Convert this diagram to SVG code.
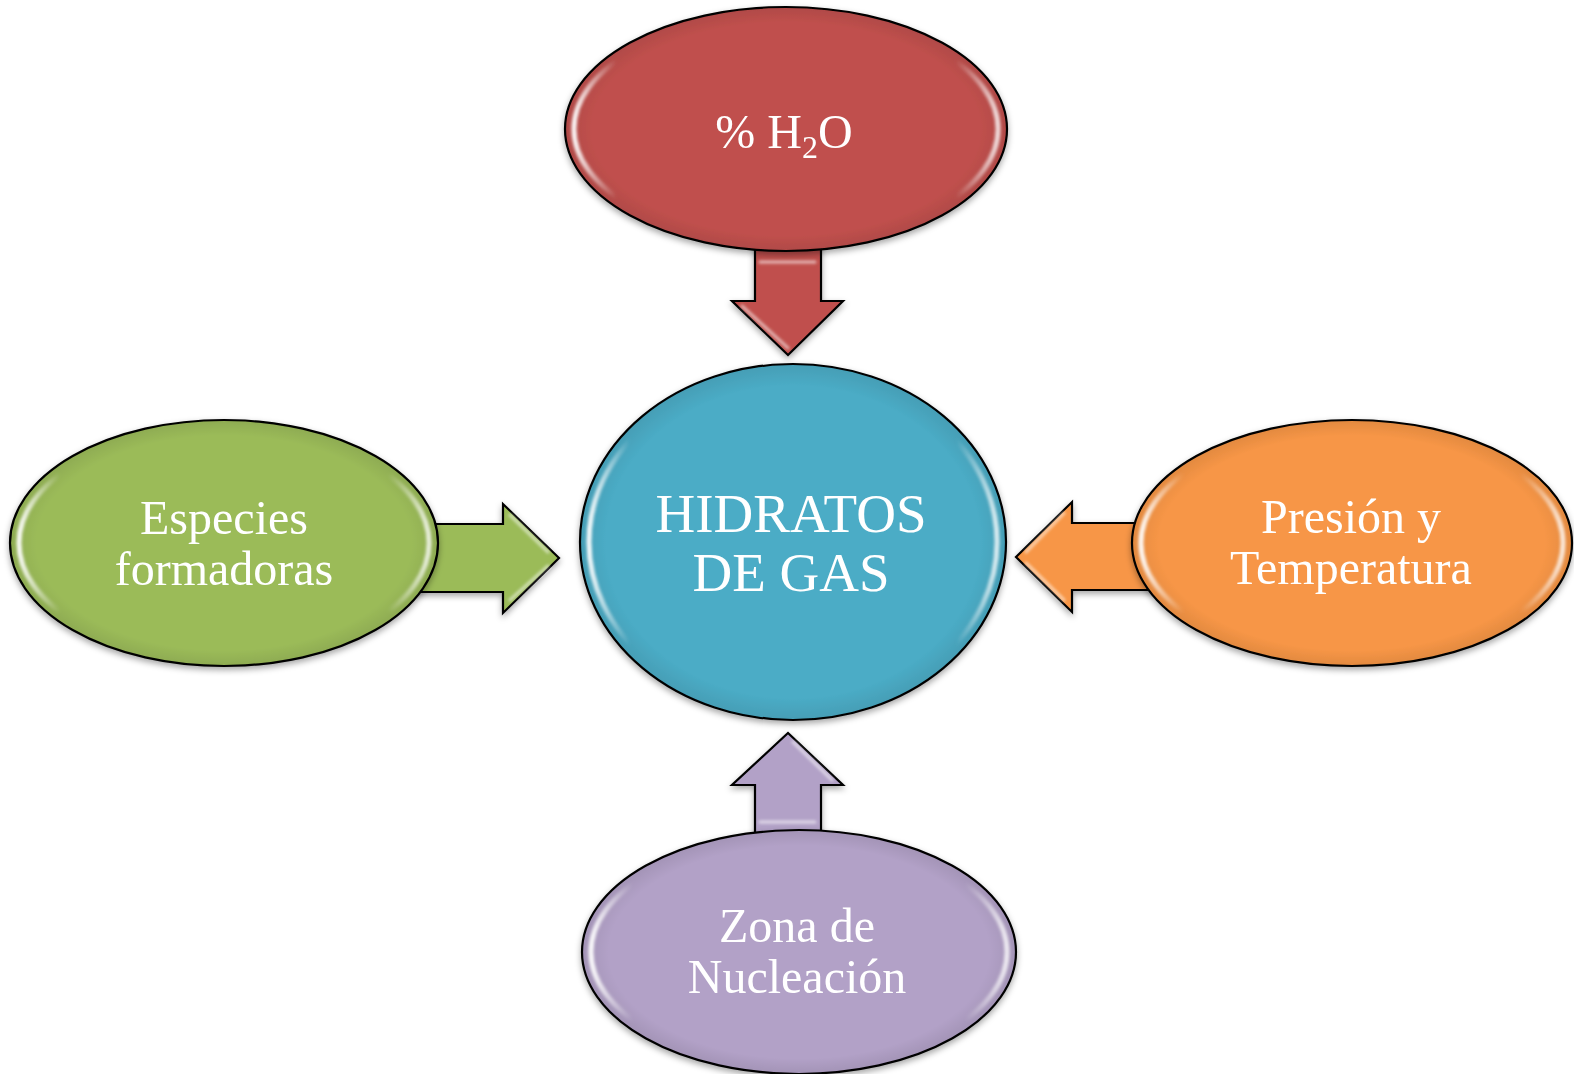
<svg xmlns="http://www.w3.org/2000/svg" width="1574" height="1074" viewBox="0 0 1574 1074">
  <defs>
    <style>
      .shape { stroke: #000; stroke-width: 2.2; stroke-linejoin: miter; }
      .red { fill: #C0504D; }
      .green { fill: #9BBB59; }
      .blue { fill: #4BACC6; }
      .orange { fill: #F79646; }
      .purple { fill: #B2A1C7; }
      .gloss { fill: none; stroke: url(#edgeGloss); stroke-width: 5; filter: url(#soft); }
      .rim { fill: url(#rimShade); stroke: none; }
      .streak { fill: none; stroke: #fff; stroke-width: 3; stroke-linecap: round; opacity: 0.6; filter: url(#soft); }
      .label { font-family: "Liberation Serif", "Times New Roman", serif; font-size: 48px; fill: #fff; text-anchor: middle; }
      .big { font-size: 55px; }
    </style>
    <!-- white crescents on the left and right inner edges -->
    <linearGradient id="edgeGloss" x1="0" y1="0" x2="1" y2="0">
      <stop offset="0" stop-color="#fff" stop-opacity="0.95"/>
      <stop offset="0.1" stop-color="#fff" stop-opacity="0"/>
      <stop offset="0.9" stop-color="#fff" stop-opacity="0"/>
      <stop offset="1" stop-color="#fff" stop-opacity="0.8"/>
    </linearGradient>
    <!-- slight darkening near the rim for a bevelled look -->
    <radialGradient id="rimShade" cx="0.5" cy="0.5" r="0.5">
      <stop offset="0.88" stop-color="#000" stop-opacity="0"/>
      <stop offset="1" stop-color="#000" stop-opacity="0.08"/>
    </radialGradient>
    <filter id="soft" x="-10%" y="-10%" width="120%" height="120%">
      <feGaussianBlur stdDeviation="1.4"/>
    </filter>
    <filter id="shadow" x="-10%" y="-10%" width="120%" height="125%">
      <feDropShadow dx="0" dy="3" stdDeviation="3" flood-color="#000" flood-opacity="0.35"/>
    </filter>
  </defs>

  <rect width="1574" height="1074" fill="#fff"/>

  <!-- block arrows pointing at the centre -->
  <g id="connectors">
    <g id="arrow-top" filter="url(#shadow)">
      <path class="shape red" d="M755,240 H821 V301 H843 L788,355 L732,301 H755 Z"/>
      <path class="streak" d="M760,262 L815,262 M742,306 L788,348"/>
    </g>
    <g id="arrow-bottom" filter="url(#shadow)">
      <path class="shape purple" d="M755,850 V785 H732 L788,733 L843,785 H821 V850 Z"/>
      <path class="streak" d="M793,742 L832,780 M760,822 L815,822"/>
    </g>
    <g id="arrow-left" filter="url(#shadow)">
      <path class="shape green" d="M400,524 H503 V504 L559,558 L503,613 V592 H400 Z"/>
      <path class="streak" d="M510,515 L548,552 M510,600 L548,566"/>
    </g>
    <g id="arrow-right" filter="url(#shadow)">
      <path class="shape orange" d="M1170,523 H1072 V502 L1016,557 L1072,612 V590 H1170 Z"/>
      <path class="streak" d="M1064,513 L1026,552 M1064,600 L1026,563"/>
    </g>
  </g>

  <!-- centre node -->
  <g id="node-hidratos" filter="url(#shadow)">
    <ellipse class="shape blue" cx="793" cy="542" rx="213" ry="178"/>
    <ellipse class="rim" cx="793" cy="542" rx="212" ry="177"/>
    <ellipse class="gloss" cx="793" cy="542" rx="204" ry="169"/>
    <text class="label big" x="791" y="532">HIDRATOS</text>
    <text class="label big" x="791" y="591">DE GAS</text>
  </g>

  <!-- top node -->
  <g id="node-agua" filter="url(#shadow)">
    <ellipse class="shape red" cx="786" cy="129" rx="221" ry="122"/>
    <ellipse class="rim" cx="786" cy="129" rx="220" ry="121"/>
    <ellipse class="gloss" cx="786" cy="129" rx="212" ry="113"/>
    <text class="label" x="784" y="148">%  H<tspan font-size="32" dy="10">2</tspan><tspan dy="-10">O</tspan></text>
  </g>

  <!-- left node -->
  <g id="node-especies" filter="url(#shadow)">
    <ellipse class="shape green" cx="224" cy="543" rx="214" ry="123"/>
    <ellipse class="rim" cx="224" cy="543" rx="213" ry="122"/>
    <ellipse class="gloss" cx="224" cy="543" rx="205" ry="114"/>
    <text class="label" x="224" y="534">Especies</text>
    <text class="label" x="224" y="585">formadoras</text>
  </g>

  <!-- right node -->
  <g id="node-presion" filter="url(#shadow)">
    <ellipse class="shape orange" cx="1352" cy="543" rx="220" ry="123"/>
    <ellipse class="rim" cx="1352" cy="543" rx="219" ry="122"/>
    <ellipse class="gloss" cx="1352" cy="543" rx="211" ry="114"/>
    <text class="label" x="1351" y="533">Presión y</text>
    <text class="label" x="1351" y="584">Temperatura</text>
  </g>

  <!-- bottom node -->
  <g id="node-zona" filter="url(#shadow)">
    <ellipse class="shape purple" cx="799" cy="952" rx="217" ry="122"/>
    <ellipse class="rim" cx="799" cy="952" rx="216" ry="121"/>
    <ellipse class="gloss" cx="799" cy="952" rx="208" ry="113"/>
    <text class="label" x="797" y="942">Zona de</text>
    <text class="label" x="797" y="993">Nucleación</text>
  </g>
</svg>
